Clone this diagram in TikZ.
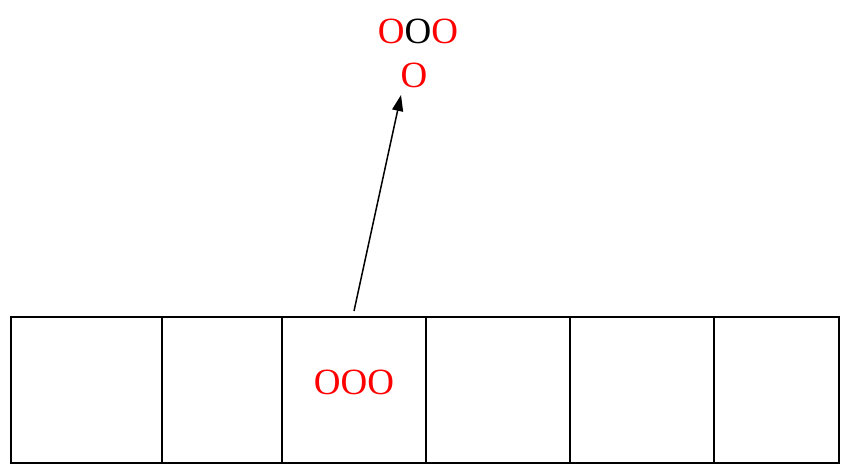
\documentclass[tikz,border=0pt]{standalone}
\usepackage{fontspec}
\setmainfont{Liberation Serif}
\usetikzlibrary{arrows.meta}
\begin{document}
\begin{tikzpicture}[x=1pt,y=-1pt,
  cell/.style={draw=black,line width=1.4pt,minimum height=146pt,inner sep=0pt,outer sep=0pt},
  lbl/.style={font=\fontsize{37}{44}\selectfont,inner sep=0pt},
  arr/.style={-{Triangle[length=16pt,width=11pt]},line width=1.5pt}]
\useasboundingbox (0,0) rectangle (843,465);
\node[cell,minimum width=151pt] (c1) at (86.5,390) {};
\node[cell,minimum width=120pt] (c2) at (222,390) {};
\node[cell,minimum width=144pt] (c3) at (354,390) {};
\node[cell,minimum width=144pt] (c4) at (498,390) {};
\node[cell,minimum width=144pt] (c5) at (642,390) {};
\node[cell,minimum width=125pt] (c6) at (776.5,390) {};
\node[lbl,text=red] (t3) at (354,382) {OOO};
\node[lbl] (top) at (418,31) {\textcolor{red}{O}O\textcolor{red}{O}};
\node[lbl,text=red] (o2) at (414,75) {O};
\coordinate (s) at (354,311);
\coordinate (e) at (401,95);
\draw[arr] (s) -- (e);
\end{tikzpicture}
\end{document}
